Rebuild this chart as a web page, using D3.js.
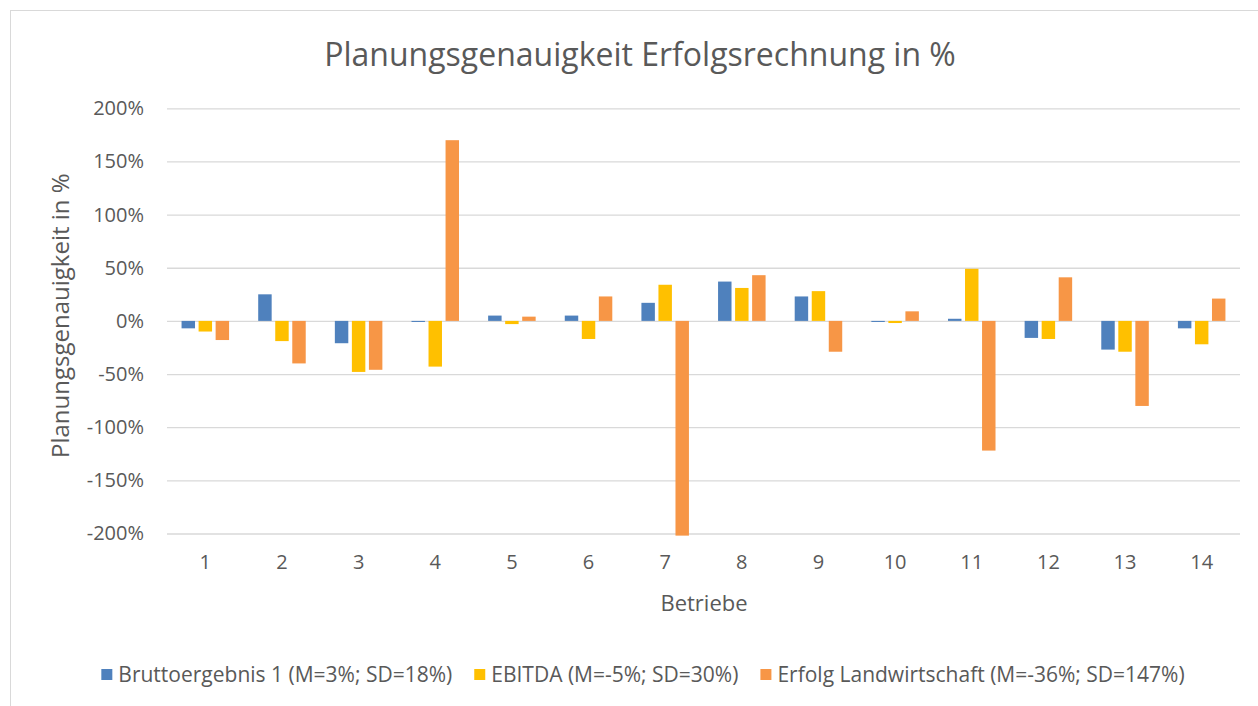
<!DOCTYPE html>
<html>
<head>
<meta charset="utf-8">
<script src="https://cdn.jsdelivr.net/npm/d3@7"></script>
<style>
  body { margin: 0; background: #fff; }
  text { font-family: "Open Sans", sans-serif; fill: #595959; }
</style>
</head>
<body>
<div id="chart"></div>
<script>
// Data (values in %)
var categories = ["1", "2", "3", "4", "5", "6", "7", "8", "9", "10", "11", "12", "13", "14"];
var seriesNames = [
    "Bruttoergebnis 1 (M=3%; SD=18%)",
    "EBITDA (M=-5%; SD=30%)",
    "Erfolg Landwirtschaft (M=-36%; SD=147%)"
];
var bruttoValues = [-7, 25, -21, -1, 5, 5, 17, 37, 23, -1, 2, -16, -27, -7];
var ebitdaValues = [-10, -19, -48, -43, -3, -17, 34, 31, 28, -2, 49, -17, -29, -22];
var erfolgValues = [-18, -40, -46, 170, 4, 23, -202, 43, -29, 9, -122, 41, -80, 21];
var yTicks = [-200, -150, -100, -50, 0, 50, 100, 150, 200];
var colors = ["#4F81BD", "#FFC000", "#F79646"];

// svg area and plot area
var svgWidth = 1258;
var svgHeight = 706;
var plot = { left: 167, right: 1240, top: 108.3, bottom: 533.5 };

var svg = d3.select("#chart")
    .append("svg")
    .attr("width", svgWidth)
    .attr("height", svgHeight);

// chart border (right and bottom edges fall outside the picture)
svg.append("rect")
    .attr("x", 10.5)
    .attr("y", 10.5)
    .attr("width", 1260)
    .attr("height", 700)
    .attr("fill", "none")
    .attr("stroke", "#d9d9d9");

// build rows for the grouped bars
var seriesValues = [bruttoValues, ebitdaValues, erfolgValues];
var rows = categories.map(function(c, i) {
    return {
        cat: c,
        values: seriesNames.map(function(s, j) {
            return { series: s, idx: j, value: seriesValues[j][i] };
        })
    };
});

// scales
var x0 = d3.scaleBand()
    .domain(categories)
    .range([plot.left, plot.right])
    .paddingInner(0.38)
    .paddingOuter(0.19);

var x1 = d3.scaleBand()
    .domain(seriesNames)
    .range([0, x0.bandwidth()])
    .paddingInner(0.21);

var yScale = d3.scaleLinear()
    .domain([-200, 200])
    .range([plot.bottom, plot.top]);

// gridlines + y tick labels
var leftAxis = d3.axisLeft(yScale)
    .tickValues(yTicks)
    .tickSize(-(plot.right - plot.left))
    .tickPadding(23)
    .tickFormat(function(d) { return d + "%"; });

var yAxisGroup = svg.append("g")
    .attr("transform", `translate(${plot.left}, 0)`)
    .call(leftAxis);
yAxisGroup.select(".domain").remove();
yAxisGroup.selectAll(".tick line")
    .attr("stroke", "#d9d9d9")
    .attr("stroke-width", 1.3);
yAxisGroup.selectAll(".tick text")
    .attr("font-size", "20px")
    .attr("font-family", "Open Sans, sans-serif")
    .attr("fill", "#595959");

// x tick labels (no ticks, labels below the plot)
var bottomAxis = d3.axisBottom(x0).tickSize(0).tickPadding(0);
var xAxisGroup = svg.append("g")
    .attr("transform", `translate(0, 555)`)
    .call(bottomAxis);
xAxisGroup.select(".domain").remove();
xAxisGroup.selectAll(".tick text")
    .attr("font-size", "20px")
    .attr("font-family", "Open Sans, sans-serif")
    .attr("fill", "#595959");

// bars
var groups = svg.selectAll("g.cat")
    .data(rows)
    .enter()
    .append("g")
    .attr("class", "cat")
    .attr("transform", d => `translate(${x0(d.cat)}, 0)`);

groups.selectAll("rect")
    .data(d => d.values)
    .enter()
    .append("rect")
    .attr("x", d => x1(d.series))
    .attr("width", x1.bandwidth())
    .attr("y", d => yScale(Math.max(0, d.value)))
    .attr("height", d => Math.abs(yScale(d.value) - yScale(0)))
    .attr("fill", d => colors[d.idx]);

// title
svg.append("text")
    .attr("x", 640)
    .attr("y", 66)
    .attr("text-anchor", "middle")
    .attr("font-size", "32px")
    .text("Planungsgenauigkeit Erfolgsrechnung in %");

// axis titles
svg.append("text")
    .attr("transform", "rotate(-90)")
    .attr("x", -458)
    .attr("y", 69)
    .attr("text-anchor", "start")
    .attr("font-size", "24px")
    .text("Planungsgenauigkeit in %");

svg.append("text")
    .attr("x", 704)
    .attr("y", 611)
    .attr("text-anchor", "middle")
    .attr("font-size", "22px")
    .text("Betriebe");

// legend, centred under the chart
var legend = svg.append("g");
var cursor = 0;
seriesNames.forEach(function(name, i) {
    var item = legend.append("g").attr("transform", `translate(${cursor}, 0)`);
    item.append("rect")
        .attr("x", 0)
        .attr("y", -6)
        .attr("width", 11)
        .attr("height", 11)
        .attr("fill", colors[i]);
    var t = item.append("text")
        .attr("x", 17)
        .attr("y", 7)
        .attr("font-size", "21px")
        .text(name);
    cursor += 17 + t.node().getComputedTextLength() + 22;
});
var legendWidth = cursor - 22;
legend.attr("transform", `translate(${643 - legendWidth / 2}, 675)`);
</script>
</body>
</html>
